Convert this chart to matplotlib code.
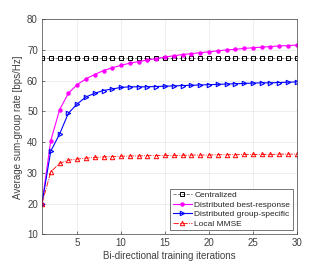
import matplotlib
matplotlib.use('Agg')
import matplotlib.pyplot as plt
import numpy as np

plt.rcParams['font.family'] = ['Liberation Sans', 'DejaVu Sans']

# iterations
iters = list(range(1, 31))

# series values
centralized = [67.4] * 30
best_response = [20.0, 40.5, 50.5, 55.9, 58.7, 60.6, 62.0, 63.3, 64.2, 65.0,
                 65.7, 66.2, 66.7, 67.2, 67.7, 68.1, 68.5, 68.8, 69.1, 69.4,
                 69.7, 70.0, 70.2, 70.5, 70.7, 70.9, 71.1, 71.3, 71.4, 71.6]
group_specific = [20.0, 37.1, 42.6, 49.4, 52.4, 54.7, 55.9, 56.8, 57.3, 57.8,
                  58.0, 58.0, 58.0, 58.1, 58.2, 58.3, 58.4, 58.5, 58.6, 58.7,
                  58.8, 58.9, 59.0, 59.1, 59.2, 59.3, 59.3, 59.4, 59.5, 59.6]
local_mmse = [20.0, 30.3, 33.1, 34.1, 34.5, 34.8, 35.0, 35.2, 35.3, 35.4,
              35.5, 35.5, 35.6, 35.6, 35.7, 35.7, 35.7, 35.8, 35.8, 35.8,
              35.9, 35.9, 35.9, 36.0, 36.0, 36.0, 36.0, 36.1, 36.1, 36.1]

labels = ['Centralized', 'Distributed best-response',
          'Distributed group-specific', 'Local MMSE']

txt = '#404040'

fig = plt.figure(figsize=(3.28, 2.63), dpi=100)
ax = fig.add_axes([0.128, 0.109, 0.777, 0.818])

ax.plot(iters, centralized, color='#666666', linestyle='--', linewidth=0.6,
        marker='s', markersize=2.6, markerfacecolor='none',
        markeredgecolor='black', markeredgewidth=0.7, label=labels[0])
ax.plot(iters, best_response, color='magenta', linestyle='-', linewidth=0.8,
        marker='o', markersize=2.2, markerfacecolor='magenta',
        markeredgecolor='magenta', label=labels[1])
ax.plot(iters, group_specific, color='blue', linestyle='-', linewidth=0.8,
        marker='>', markersize=3.2, markerfacecolor='none',
        markeredgecolor='blue', markeredgewidth=0.8, label=labels[2])
ax.plot(iters, local_mmse, color='red', linestyle='-.', linewidth=0.6,
        marker='^', markersize=3.2, markerfacecolor='none',
        markeredgecolor='red', markeredgewidth=0.7, label=labels[3])

ax.set_xlim(1, 30)
ax.set_ylim(10, 80)
ax.set_xticks([5, 10, 15, 20, 25, 30])
ax.set_yticks(range(10, 81, 10))
ax.grid(True, color='#e8e8e8', linewidth=0.5)
ax.set_axisbelow(True)
ax.tick_params(direction='in', labelsize=7, colors=txt, length=2.5,
               width=0.5, pad=3)
for s in ax.spines.values():
    s.set_color('#404040')
    s.set_linewidth(0.5)

ax.set_xlabel('Bi-directional training iterations', fontsize=7,
              color=txt, labelpad=2)
ax.set_ylabel('Average sum-group rate [bps/Hz]', fontsize=7,
              color=txt, labelpad=3)

leg = ax.legend(loc='lower right', fontsize=6.0, fancybox=False,
                framealpha=1, edgecolor='#404040', borderpad=0.3,
                labelspacing=0.2, handlelength=2.3, handletextpad=0.3,
                borderaxespad=0.5)
leg.get_frame().set_linewidth(0.5)
for t in leg.get_texts():
    t.set_color('#262626')

fig.savefig('out.png', dpi=100)
